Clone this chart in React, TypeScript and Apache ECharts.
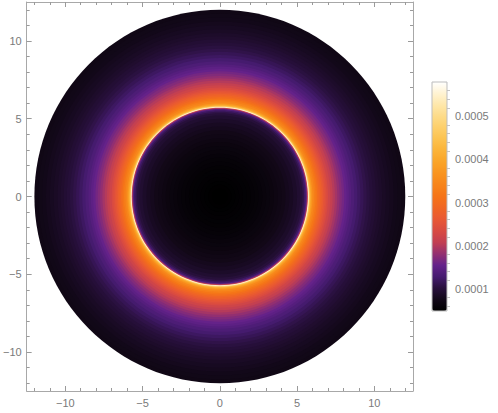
import React, { useEffect, useRef } from "react";
import * as echarts from "echarts";

// Radial profile: outer radius of each band and its value
const ringRadius = [
  0.25, 0.5, 0.75, 1.0, 1.25, 1.5, 1.75, 2.0, 2.25, 2.5, 2.75, 3.0, 3.25, 3.5, 3.75,
  4.0, 4.25, 4.5, 4.75, 5.0, 5.2, 5.35, 5.45, 5.55, 5.62, 5.67, 5.7,
  5.75, 5.8, 5.85, 5.9, 5.95, 6.0, 6.1, 6.2, 6.3, 6.4, 6.5, 6.6, 6.7, 6.8, 6.9, 7.0,
  7.15, 7.3, 7.45, 7.6, 7.75, 7.9, 8.05, 8.2, 8.35, 8.5, 8.7, 8.9, 9.1, 9.3, 9.5,
  9.7, 9.9, 10.1, 10.3, 10.5, 10.75, 11.0, 11.25, 11.5, 11.75, 12.0,
];
const ringValue = [
  0.000048, 0.000048, 0.000049, 0.00005, 0.000051, 0.000052, 0.000053, 0.000054,
  0.000056, 0.000057, 0.000059, 0.000061, 0.000063, 0.000065, 0.000068, 0.000071,
  0.000074, 0.000078, 0.000082, 0.000087, 0.000093, 0.0001, 0.000108, 0.00012,
  0.00014, 0.00018, 0.00025,
  0.00056, 0.00048, 0.00043, 0.0004, 0.00038, 0.000365, 0.000345, 0.00033, 0.000315,
  0.0003, 0.000288, 0.000276, 0.000265, 0.000254, 0.000244, 0.000234,
  0.000222, 0.00021, 0.0002, 0.00019, 0.00018, 0.000171, 0.000163, 0.000155,
  0.000148, 0.000141, 0.000134, 0.000127, 0.00012, 0.000114, 0.000108,
  0.000103, 0.000099, 0.000095, 0.000091, 0.000088, 0.000084, 0.000081, 0.000078,
  0.000075, 0.000073, 0.000071,
];

const frameMajorTicks = [-10, -5, 0, 5, 10];
const frameMinorTicks = [-12, -11, -9, -8, -7, -6, -4, -3, -2, -1, 1, 2, 3, 4, 6, 7, 8, 9, 11, 12];
const barMajorTicks = [0.0001, 0.0002, 0.0003, 0.0004, 0.0005];
const barMinorTicks = [
  0.00006, 0.00008, 0.00012, 0.00014, 0.00016, 0.00018, 0.00022, 0.00024, 0.00026,
  0.00028, 0.00032, 0.00034, 0.00036, 0.00038, 0.00042, 0.00044, 0.00046, 0.00048,
  0.00052, 0.00054, 0.00056,
];
const valueMin = 0.000048;
const valueMax = 0.00058;
const sunset = [
  "#000000", "#120818", "#28103c", "#461b70", "#64228a", "#943070", "#c23f52",
  "#d84a42", "#e85834", "#f06624", "#f57418", "#f7841a", "#f9941f", "#faa428",
  "#fbb338", "#fcc24f", "#fdcf6a", "#fddb88", "#fee7aa", "#fff3d2", "#ffffff",
];

const FRAME = "#a8a8a8";
const TICK = "#9a9a9a";
const LABEL = "#7a7a7a";
const FONT = "Liberation Sans";

const minus = (v: number) => String(v).replace("-", "\u2212");

function frameAxis(kind: "x" | "y", position: string, ticks: number[], len: number, labels: boolean, line: boolean) {
  return {
    type: "value",
    gridIndex: 0,
    position,
    min: -12.5,
    max: 12.5,
    axisLine: { show: line, onZero: false, lineStyle: { color: FRAME, width: 1 } },
    axisTick: { show: true, inside: true, length: len, customValues: ticks, lineStyle: { color: TICK, width: 1 } },
    axisLabel: labels
      ? { show: true, customValues: frameMajorTicks, formatter: minus, color: LABEL, fontFamily: FONT, fontSize: 11, margin: kind === "x" ? 6 : 5 }
      : { show: false },
    splitLine: { show: false },
  };
}

export default function App() {
  const ref = useRef<HTMLDivElement>(null);
  useEffect(() => {
    if (!ref.current) return;
    const chart = echarts.init(ref.current, null, { renderer: "svg" });
    const rings = ringRadius.map((r, i) => [r, ringValue[i]]).sort((a, b) => b[0] - a[0]);
    chart.setOption({
      animation: false,
      backgroundColor: "#ffffff",
      grid: [
        { left: 23, top: 2, width: 390, height: 389, show: false },
        { left: 432, top: 82, width: 15, height: 229, show: true, borderColor: "#bdbdbd", borderWidth: 1, backgroundColor: "transparent", z: 10 },
      ],
      xAxis: [
        frameAxis("x", "bottom", frameMajorTicks, 5, true, true),
        frameAxis("x", "bottom", frameMinorTicks, 3, false, false),
        frameAxis("x", "top", frameMajorTicks, 5, false, true),
        frameAxis("x", "top", frameMinorTicks, 3, false, false),
        { type: "value", gridIndex: 1, show: false, min: 0, max: 1 },
      ],
      yAxis: [
        frameAxis("y", "left", frameMajorTicks, 5, true, true),
        frameAxis("y", "left", frameMinorTicks, 3, false, false),
        frameAxis("y", "right", frameMajorTicks, 5, false, true),
        frameAxis("y", "right", frameMinorTicks, 3, false, false),
        {
          type: "value", gridIndex: 1, position: "right", min: valueMin, max: valueMax,
          axisLine: { show: false },
          axisTick: { show: true, inside: false, length: 5, customValues: barMajorTicks, lineStyle: { color: TICK } },
          axisLabel: { show: true, customValues: barMajorTicks, formatter: (v: number) => v.toFixed(4), color: LABEL, fontFamily: FONT, fontSize: 11, margin: 8 },
          splitLine: { show: false },
        },
        {
          type: "value", gridIndex: 1, position: "right", min: valueMin, max: valueMax,
          axisLine: { show: false },
          axisTick: { show: true, inside: false, length: 3, customValues: barMinorTicks, lineStyle: { color: "#c4c4c4" } },
          axisLabel: { show: false },
          splitLine: { show: false },
        },
      ],
      visualMap: {
        type: "continuous",
        seriesIndex: 0,
        dimension: 1,
        min: valueMin,
        max: valueMax,
        calculable: false,
        hoverLink: false,
        left: 432,
        top: 82,
        padding: 0,
        itemWidth: 15,
        itemHeight: 229,
        inRange: { color: sunset },
      },
      series: [
        {
          type: "custom",
          xAxisIndex: 0,
          yAxisIndex: 0,
          data: rings,
          encode: { x: 0, y: 0 },
          renderItem: (_params: any, api: any) => {
            const r = api.value(0);
            const c = api.coord([0, 0]);
            const rx = api.size([r, 0])[0];
            const ry = api.size([0, r])[1];
            return {
              type: "ellipse",
              shape: { cx: c[0], cy: c[1], rx, ry },
              style: { fill: api.visual("color"), stroke: null },
            };
          },
        },
      ],
    });
    return () => chart.dispose();
  }, []);
  return <div ref={ref} style={{ position: "fixed", left: 0, top: 0, width: 498, height: 413 }} />;
}
